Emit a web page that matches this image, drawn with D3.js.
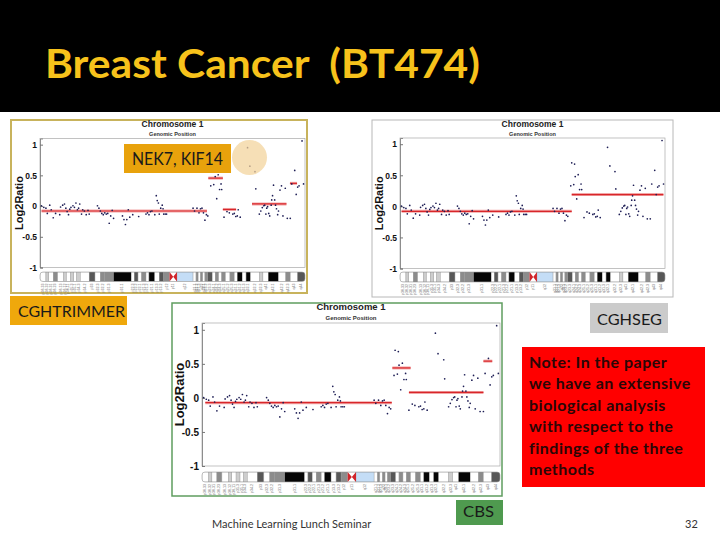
<!DOCTYPE html>
<html>
<head>
<meta charset="utf-8">
<script src="https://cdn.jsdelivr.net/npm/d3@7"></script>
<style>
body { margin: 0; background: #fff; }
svg { display: block; }
</style>
</head>
<body>
<div id="vis"></div>
<script>
// ---- data ----
var slideTitle = "Breast Cancer  (BT474)";
var chromLen = 250;            // Mb shown on the x axis
var yTicks = [1, 0.5, 0, -0.5, -1];

// probes: [position Mb, log2 ratio]
var probes = [
  [1.4,0.005],[3.6,-0.02],[5.6,-0.034],[6.9,-0.12],[9.2,0.015],[10.6,-0.06],[12.5,-0.19],
  [14.7,-0.12],[18.6,-0.14],[19.4,-0.015],[21.4,0.015],[23.1,0.034],[24.4,-0.034],[25.6,-0.09],
  [26.9,-0.14],[28.1,-0.05],[29.2,-0.02],[31.1,0.005],[32.5,-0.02],[33.9,0.05],[35.3,-0.06],
  [36.4,-0.034],[37.5,0.034],[39.2,-0.13],[40.3,-0.06],[41.9,-0.08],[43.6,-0.14],[45.3,-0.07],
  [46.4,-0.13],[54.2,0.005],[55.6,-0.034],[56.9,-0.08],[58.3,-0.12],[59.7,-0.14],[61.1,-0.11],
  [62.5,-0.13],[63.9,-0.12],[65.3,-0.28],[66.7,-0.16],[68.1,-0.07],[69.4,-0.2],[77.8,-0.16],
  [79.2,-0.22],[80.6,-0.3],[81.9,-0.22],[83.3,-0.06],[84.7,-0.18],[87.5,-0.14],[93.1,-0.17],
  [100,-0.13],[101.4,-0.11],[102.8,-0.14],[104.2,-0.09],[105.6,-0.08],[108.3,-0.14],[109.7,0.17],
  [110.6,0.09],[111.7,0.05],[112.5,-0.13],[113.9,-0.034],[115.3,0.015],[116.1,-0.044],[116.7,-0.13],
  [118.1,-0.13],[119.4,-0.13],[144.4,-0.034],[145.8,-0.08],[148.1,-0.034],[150,-0.11],[151.4,-0.044],
  [152.8,-0.034],[154.2,-0.11],[155.6,-0.23],[157,-0.14],[158.3,-0.16],
  [161.1,0.33],[162,0.70],[163.9,0.35],[164.7,0.68],[165.3,0.48],[166.7,0.12],[168.1,0.51],
  [169.4,0.27],[170.8,0.36],[171.4,0.27],
  [173.6,-0.18],[176.4,-0.09],[178.6,-0.11],[181.9,-0.13],[183.3,-0.12],[184.7,-0.17],[186.1,-0.16],
  [187,-0.06],[188.9,-0.18],[195.8,0.95],[198,0.65],[202.8,0.56],[203.6,0.28],[206.9,-0.13],
  [208.3,-0.08],[209.7,-0.025],[211.1,0.005],[212,0.015],[213.1,-0.13],[213.9,-0.034],[214.7,-0.01],
  [215.8,-0.12],[216.7,-0.16],[218.1,0.015],[218.6,0.1],[219.4,0.17],[220.3,0.34],[221.4,0.1],
  [222.2,0.015],[223.1,-0.044],[224.2,-0.14],[225,-0.08],[226.4,0.26],[227.8,0.33],[229.2,-0.16],
  [231.4,0.29],[233.3,-0.2],
  [236.1,-0.2],[237.5,0.36],[240.3,0.58],[241.7,0.19],[243.1,0.31],[244.4,0.33],[247.2,1.06],[248.6,0.36]
];

// segments: [start Mb, end Mb, mean log2 ratio]
var segTrimmer = [[1.5,157.5,-0.08],[158.8,172.5,0.455],[172.5,185,-0.055],[200,232.5,0.035],[235.8,242.5,0.37]];
var segCghseg  = [[1.5,162,-0.08],[162,248.5,0.19]];
var segCbs     = [[2.8,159.2,-0.07],[159.7,175,0.44],[173.6,236.1,0.08],[236.1,243.5,0.54]];

// ideogram bands: [start Mb, end Mb, stain, name]
var bands = [
  [0,5.6,"gneg","p36.33"],[5.6,8.3,"gpos25","p36.32"],[8.3,12.5,"gneg","p36.31"],[12.5,16.7,"gpos50","p36.23"],
  [16.7,22.2,"gneg","p36.13"],[22.2,25,"gpos25","p36.12"],[25,28.6,"gneg","p36.11"],[28.6,31.9,"gpos25","p35.3"],
  [31.9,34.7,"gneg","p35.1"],[34.7,38.1,"gpos25","p34.3"],[38.1,46.4,"gneg","p34.2"],[46.4,51.9,"gpos75","p33"],
  [51.9,56.9,"gneg","p32.3"],[56.9,61.1,"gpos50","p32.2"],[61.1,69.4,"gpos50","p31.3"],[69.4,86.1,"gpos100","p31.1"],
  [86.1,88.9,"gneg","p22.3"],[88.9,92.5,"gpos75","p22.2"],[92.5,95.8,"gneg","p22.1"],[95.8,100,"gpos50","p21.3"],
  [100,102.8,"gneg","p21.2"],[102.8,108.3,"gpos100","p21.1"],[108.3,112.5,"gneg","p13.3"],[112.5,116.7,"gpos75","p13.2"],
  [116.7,122.2,"gpos50","p12"],[122.2,129.2,"acen","p11"],[129.2,144.4,"gvar","q12"],[144.4,147.2,"gneg","q21.1"],
  [147.2,149.2,"gpos50","q21.2"],[149.2,151.4,"gneg","q21.3"],[151.4,153.6,"gpos50","q22"],[153.6,155.6,"gneg","q23.1"],
  [155.6,158.3,"gpos50","q23.2"],[158.3,162.5,"gpos75","q23.3"],[162.5,165.3,"gneg","q24.1"],[165.3,168.6,"gpos50","q24.2"],
  [168.6,171.4,"gneg","q24.3"],[171.4,175,"gpos50","q25.1"],[175,179.2,"gneg","q25.2"],[179.2,183.3,"gpos50","q25.3"],
  [183.3,186.1,"gneg","q31.1"],[186.1,190.8,"gpos100","q31.2"],[190.8,194.4,"gneg","q31.3"],[194.4,198.6,"gpos100","q32.1"],
  [198.6,206.9,"gneg","q32.2"],[206.9,210.3,"gpos25","q32.3"],[210.3,215.3,"gneg","q41"],[215.3,225,"gpos100","q42.1"],
  [225,231.9,"gneg","q42.2"],[231.9,236.1,"gpos50","q42.3"],[236.1,243,"gneg","q43"],[243,250,"gpos75","q44"]
];

var noteLines = ["Note: In the paper", "we have an extensive", "biological analysis",
                 "with respect to the", "findings of the three", "methods"];

var stainColor = {gneg: "#ffffff", gpos25: "#cdcdcd", gpos50: "#8c8c8c", gpos75: "#575757",
                  gpos100: "#050505", gvar: "#c4ddf6", acen: "#ffffff"};

// ---- page ----
var width = 720, height = 540;
var svg = d3.select("#vis").append("svg")
    .attr("width", width)
    .attr("height", height);

svg.append("rect").attr("width", width).attr("height", height).attr("fill", "#fff");

// black header band
svg.append("rect").attr("width", width).attr("height", 112).attr("fill", "#000");
svg.append("text")
    .attr("x", 45).attr("y", 78)
    .attr("fill", "#f7c21b")
    .attr("textLength", 435).attr("lengthAdjust", "spacingAndGlyphs")
    .style("white-space", "pre")
    .style("font", "bold 40px Lato, sans-serif")
    .text(slideTitle);

var panels = [
  {box: [11, 120, 296, 173], stroke: "#c8b35c", sw: 2, left: 40, right: 305, top: 138.5, bottom: 267.5,
   titleY: 127, subY: 136, labelX: 19, tickFont: 8.5, labelFont: 11, titleFont: 8.5, subFont: 5.5,
   ideoTop: 272, ideoH: 9.5, segs: segTrimmer},
  {box: [372, 120, 301, 177], stroke: "#b8b8b8", sw: 1, left: 400, right: 665, top: 138, bottom: 268.5,
   titleY: 127, subY: 136, labelX: 379, tickFont: 8.5, labelFont: 11, titleFont: 8.5, subFont: 5.5,
   ideoTop: 272, ideoH: 10, segs: segCghseg},
  {box: [172, 303, 330, 193], stroke: "#5f9d5f", sw: 1.5, left: 202, right: 500, top: 323, bottom: 466,
   titleY: 310, subY: 320, labelX: 179, tickFont: 10, labelFont: 13, titleFont: 9.5, subFont: 6,
   ideoTop: 472, ideoH: 10, segs: segCbs}
];

panels.forEach(drawPanel);

function drawPanel(p, i) {
    svg.append("rect")
       .attr("x", p.box[0]).attr("y", p.box[1])
       .attr("width", p.box[2]).attr("height", p.box[3])
       .attr("fill", "#fff")
       .attr("stroke", p.stroke)
       .attr("stroke-width", p.sw);

    var g = svg.append("g");

    var x = d3.scaleLinear().domain([0, chromLen]).range([p.left, p.right]);
    var y = d3.scaleLinear().domain([-1, 1.1]).range([p.bottom, p.top]);

    // plot frame
    g.append("rect")
     .attr("x", p.left).attr("y", p.top)
     .attr("width", p.right - p.left).attr("height", p.bottom - p.top)
     .attr("fill", "none")
     .attr("stroke", "#a8a8a8")
     .attr("stroke-width", 0.7);

    var ax = g.append("g")
      .attr("transform", "translate(" + p.left + ",0)")
      .call(d3.axisLeft(y).tickValues(yTicks).tickSize(-3).tickPadding(3).tickFormat(function(d) { return String(d); }));
    ax.select(".domain").attr("stroke", "#777").attr("stroke-width", 0.8);
    ax.selectAll(".tick line").attr("stroke", "#777");
    ax.selectAll("text")
      .attr("fill", "#111")
      .style("font", "bold " + p.tickFont + "px 'Liberation Sans', Arial, sans-serif");

    g.append("text")
     .attr("transform", "translate(" + p.labelX + "," + y(0.05) + ") rotate(-90)")
     .attr("text-anchor", "middle")
     .attr("dy", "0.35em")
     .attr("fill", "#111")
     .style("font", "bold " + p.labelFont + "px 'Liberation Sans', Arial, sans-serif")
     .text("Log2Ratio");

    var cx = (p.left + p.right) / 2;
    g.append("text")
     .attr("x", cx).attr("y", p.titleY)
     .attr("text-anchor", "middle")
     .attr("fill", "#222")
     .style("font", "bold " + p.titleFont + "px 'Liberation Sans', Arial, sans-serif")
     .text("Chromosome 1");
    g.append("text")
     .attr("x", cx).attr("y", p.subY)
     .attr("text-anchor", "middle")
     .attr("fill", "#333")
     .style("font", "bold " + p.subFont + "px 'Liberation Sans', Arial, sans-serif")
     .text("Genomic Position");

    // segment means, soft halo then line
    g.selectAll(".halo")
     .data(p.segs)
     .join("line")
       .attr("x1", d => x(d[0])).attr("x2", d => x(d[1]))
       .attr("y1", d => y(d[2])).attr("y2", d => y(d[2]))
       .attr("stroke", "#f2a6a6")
       .attr("stroke-width", 3);
    g.selectAll(".seg")
     .data(p.segs)
     .join("line")
       .attr("x1", d => x(d[0])).attr("x2", d => x(d[1]))
       .attr("y1", d => y(d[2])).attr("y2", d => y(d[2]))
       .attr("stroke", "#d8262a")
       .attr("stroke-width", 1.2);

    g.selectAll(".probe")
     .data(probes)
     .join("circle")
       .attr("cx", d => x(d[0]))
       .attr("cy", d => y(d[1]))
       .attr("r", 0.85)
       .attr("fill", "#1d1d55");

    // ideogram
    var clipId = "ideo" + i;
    svg.append("clipPath").attr("id", clipId)
       .append("rect")
       .attr("x", x(0)).attr("y", p.ideoTop)
       .attr("width", x(chromLen) - x(0)).attr("height", p.ideoH)
       .attr("rx", 3);

    var ideo = g.append("g").attr("clip-path", "url(#" + clipId + ")");
    ideo.selectAll("rect")
      .data(bands)
      .join("rect")
        .attr("x", d => x(d[0]))
        .attr("y", p.ideoTop)
        .attr("width", d => x(d[1]) - x(d[0]))
        .attr("height", p.ideoH)
        .attr("fill", d => stainColor[d[2]])
        .attr("stroke", "#9a9a9a")
        .attr("stroke-width", 0.4);

    var cen = bands.filter(d => d[2] == "acen")[0];
    var c0 = x(cen[0]), c1 = x(cen[1]), cm = (c0 + c1) / 2;
    var t = p.ideoTop, b = p.ideoTop + p.ideoH, m = t + p.ideoH / 2;
    ideo.append("path")
      .attr("d", "M" + c0 + "," + t + "L" + cm + "," + m + "L" + c0 + "," + b + "Z" +
                 "M" + c1 + "," + t + "L" + cm + "," + m + "L" + c1 + "," + b + "Z")
      .attr("fill", "#d0242a");

    g.append("rect")
     .attr("x", x(0)).attr("y", p.ideoTop)
     .attr("width", x(chromLen) - x(0)).attr("height", p.ideoH)
     .attr("rx", 3)
     .attr("fill", "none")
     .attr("stroke", "#8a8a8a")
     .attr("stroke-width", 0.5);

    // band names, tiny and vertical
    g.selectAll(".band-label")
     .data(bands)
     .join("text")
       .attr("transform", d => "translate(" + (x((d[0] + d[1]) / 2) + 1) + "," + (b + 2) + ") rotate(-90)")
       .attr("text-anchor", "end")
       .attr("fill", "#666")
       .style("font", "3.6px 'Liberation Sans', Arial, sans-serif")
       .text(d => d[3]);
}

// ---- callouts ----
function labelBox(bx, by, bw, bh, fill, txt, tx, ty, size, len) {
    svg.append("rect")
       .attr("x", bx).attr("y", by).attr("width", bw).attr("height", bh)
       .attr("fill", fill);
    svg.append("text")
       .attr("x", tx).attr("y", ty)
       .attr("fill", "#1a1a1a")
       .attr("textLength", len).attr("lengthAdjust", "spacingAndGlyphs")
       .style("font", size + "px Lato, sans-serif")
       .text(txt);
}

// highlighted amplicon
svg.append("circle")
   .attr("cx", 249.5).attr("cy", 157.5).attr("r", 17.5)
   .attr("fill", "#f3d39a")
   .attr("opacity", 0.72);

labelBox(124, 144, 107, 29, "#e8a20c", "NEK7, KIF14", 132, 165, 17, 91);
labelBox(10, 296, 117, 29, "#efa80c", "CGHTRIMMER", 18, 317, 16, 107);
labelBox(590, 303, 78, 30, "#cbcbcb", "CGHSEG", 597, 325, 15, 65);
labelBox(456, 500, 47, 25, "#4f9a4f", "CBS", 463, 517, 16, 31);

svg.append("rect")
   .attr("x", 522).attr("y", 347).attr("width", 183).attr("height", 140)
   .attr("fill", "#ff0000");
svg.selectAll(".note")
   .data(noteLines)
   .join("text")
     .attr("x", 529)
     .attr("y", (d, k) => 368 + k * 21.4)
     .attr("fill", "#2a0606")
     .style("font", "bold 16px Lato, sans-serif")
     .style("letter-spacing", "0.5px")
     .text(d => d);

svg.append("text")
   .attr("x", 212).attr("y", 528)
   .attr("fill", "#333")
   .style("font", "11px Lato, sans-serif")
   .text("Machine Learning Lunch Seminar");
svg.append("text")
   .attr("x", 685).attr("y", 528)
   .attr("fill", "#333")
   .style("font", "11px Lato, sans-serif")
   .text("32");
</script>
</body>
</html>
